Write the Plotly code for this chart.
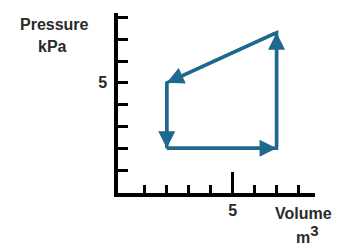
import plotly.graph_objects as go

# data
volume = [2, 7, 7, 2]          # m^3, corners in cycle order
pressure = [2, 2, 7.3, 5]      # kPa
y_major_vals = [5]
y_major_text = ["<b>5</b>"]
y_minor_vals = [1, 2, 3, 4, 6, 7, 8]
x_major_vals = [5]
x_major_text = ["<b>5</b>"]
x_minor_vals = [1, 2, 3, 4, 6, 7, 8]

LINE = "#1d6a8e"
TXT = "#2a2a2a"
FONT = "Liberation Sans, Arial, sans-serif"

# page has an 8px body margin; figure is sized to fit inside the window
OFF = 8
W, H = 347 - OFF, 246 - OFF
L, R, T, B = 118 - OFF, 32, 13 - OFF, 53

fig = go.Figure()

xs = volume + [volume[0]]
ys = pressure + [pressure[0]]
fig.add_trace(go.Scatter(x=xs, y=ys, mode="lines",
                         line=dict(color=LINE, width=3.4),
                         hoverinfo="skip", showlegend=False))

n = len(volume)
for i in range(n):
    x0, y0 = volume[i], pressure[i]
    x1, y1 = volume[(i + 1) % n], pressure[(i + 1) % n]
    fig.add_annotation(x=x1, y=y1, ax=x0, ay=y0,
                       xref="x", yref="y", axref="x", ayref="y",
                       showarrow=True, arrowhead=2, arrowsize=1.0,
                       arrowwidth=3.4, arrowcolor=LINE, text="",
                       standoff=0, startstandoff=0)

fig.update_layout(
    width=W, height=H,
    margin=dict(l=L, r=R, t=T, b=B, autoexpand=False),
    paper_bgcolor="white", plot_bgcolor="white",
    font=dict(family=FONT, size=16, color=TXT),
    xaxis=dict(range=[-0.22, 8.75], showgrid=False, zeroline=False,
               showline=True, linecolor="black", linewidth=3.5,
               tickmode="array", tickvals=x_major_vals, ticktext=x_major_text,
               ticks="inside", ticklen=21, tickwidth=3, tickcolor="black",
               tickfont=dict(family=FONT, size=16, color=TXT),
               minor=dict(tickmode="array", tickvals=x_minor_vals, ticks="inside",
                          ticklen=8, tickwidth=3, tickcolor="black")),
    yaxis=dict(range=[-0.05, 8.2], showgrid=False, zeroline=False,
               showline=True, linecolor="black", linewidth=3.5,
               tickmode="array", tickvals=y_major_vals, ticktext=y_major_text,
               ticks="inside", ticklen=10, tickwidth=3, tickcolor="black",
               ticklabelstandoff=4,
               tickfont=dict(family=FONT, size=16, color=TXT),
               minor=dict(tickmode="array", tickvals=y_minor_vals, ticks="inside",
                          ticklen=10, tickwidth=3, tickcolor="black")),
)


def add_px(text, xp, yp, size=16):
    # xp, yp are window pixel positions
    xp -= OFF
    yp -= OFF
    pw, ph = W - L - R, H - T - B
    fig.add_annotation(x=(xp - L) / pw, y=(H - B - yp) / ph,
                       xref="paper", yref="paper", text=text, showarrow=False,
                       xanchor="center", yanchor="middle",
                       font=dict(family=FONT, size=size, color=TXT))


add_px("<b>Pressure</b>", 54, 25)
add_px("<b>kPa</b>", 52, 46)
add_px("<b>Volume</b>", 303, 213)
add_px("<b>m<sup><span style='font-size:15px'>3</span></sup></b>", 307, 234)

fig.write_html("out.html")
